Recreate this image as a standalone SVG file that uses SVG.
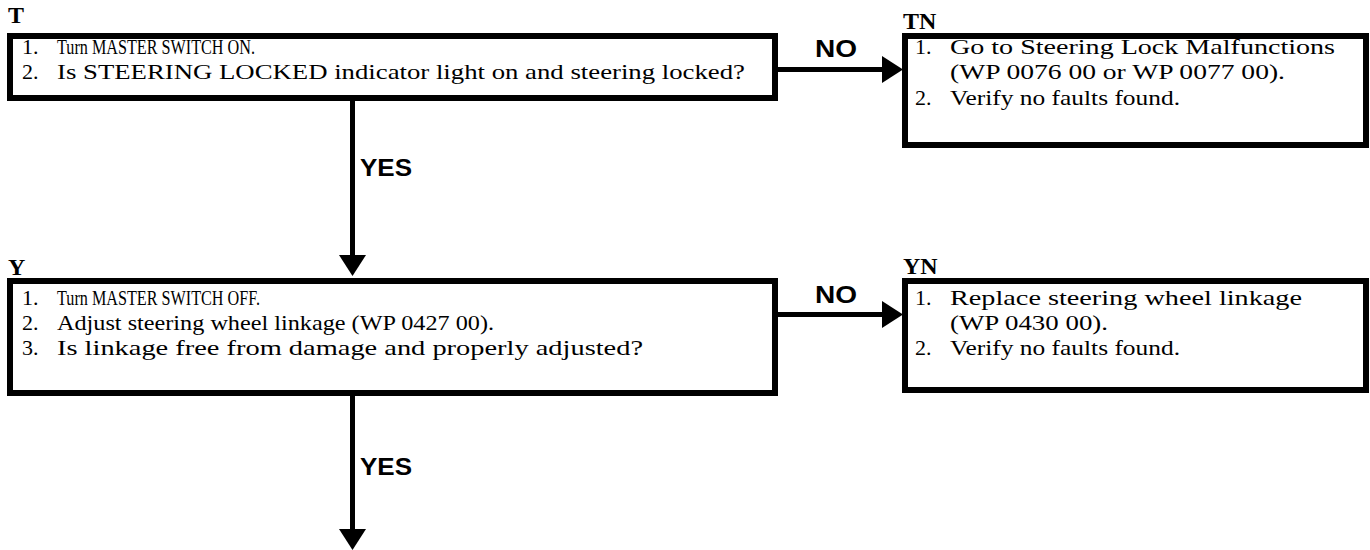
<svg xmlns="http://www.w3.org/2000/svg" width="1370" height="550" viewBox="0 0 1370 550">
<defs>
<style>
.box{fill:#fff;stroke:#000;stroke-width:6}
.t{font-family:"Liberation Serif","Times New Roman",serif;font-size:22px;fill:#000}
.lbl{font-family:"Liberation Serif","Times New Roman",serif;font-size:24px;font-weight:bold;fill:#000}
.c{stroke:#000;stroke-width:5;fill:none}
.yn{font-family:"Liberation Sans",Arial,sans-serif;font-size:24px;font-weight:bold;fill:#000}
</style>
</defs>
<g id="connectors">
<line class="c" x1="778" y1="69.5" x2="885" y2="69.5"/>
<polygon points="882,56 903,69.5 882,83"/>
<text class="yn" x="815" y="57" textLength="42" lengthAdjust="spacingAndGlyphs">NO</text>
<line class="c" x1="352.5" y1="101" x2="352.5" y2="258"/>
<polygon points="339,255 352.5,276 366,255"/>
<text class="yn" x="360" y="176" textLength="52" lengthAdjust="spacingAndGlyphs">YES</text>
<line class="c" x1="778" y1="314.5" x2="885" y2="314.5"/>
<polygon points="882,301 903,314.5 882,328"/>
<text class="yn" x="815" y="303" textLength="42" lengthAdjust="spacingAndGlyphs">NO</text>
<line class="c" x1="352.5" y1="396" x2="352.5" y2="532"/>
<polygon points="339,529 352.5,550 366,529"/>
<text class="yn" x="360" y="475" textLength="52" lengthAdjust="spacingAndGlyphs">YES</text>
</g>
<g id="T">
<text class="lbl" x="8" y="23">T</text>
<rect class="box" x="10" y="36" width="765" height="62"/>
<text class="t" x="22" y="54">1.</text><text class="t" x="57" y="54" textLength="198" lengthAdjust="spacingAndGlyphs">Turn MASTER SWITCH ON.</text>
<text class="t" x="22" y="79">2.</text><text class="t" x="57" y="79" textLength="688" lengthAdjust="spacingAndGlyphs">Is STEERING LOCKED indicator light on and steering locked?</text>
</g>
<g id="TN">
<text class="lbl" x="903" y="29">TN</text>
<rect class="box" x="905" y="36" width="461" height="109"/>
<text class="t" x="915" y="54">1.</text><text class="t" x="950" y="54" textLength="385" lengthAdjust="spacingAndGlyphs">Go to Steering Lock Malfunctions</text>
<text class="t" x="950" y="79" textLength="335" lengthAdjust="spacingAndGlyphs">(WP 0076 00 or WP 0077 00).</text>
<text class="t" x="915" y="105">2.</text><text class="t" x="950" y="105" textLength="230" lengthAdjust="spacingAndGlyphs">Verify no faults found.</text>
</g>
<g id="Y">
<text class="lbl" x="8" y="275">Y</text>
<rect class="box" x="10" y="281" width="765" height="112"/>
<text class="t" x="22" y="305">1.</text><text class="t" x="57" y="305" textLength="203" lengthAdjust="spacingAndGlyphs">Turn MASTER SWITCH OFF.</text>
<text class="t" x="22" y="330">2.</text><text class="t" x="57" y="330" textLength="437" lengthAdjust="spacingAndGlyphs">Adjust steering wheel linkage (WP 0427 00).</text>
<text class="t" x="22" y="355">3.</text><text class="t" x="57" y="355" textLength="586" lengthAdjust="spacingAndGlyphs">Is linkage free from damage and properly adjusted?</text>
</g>
<g id="YN">
<text class="lbl" x="903" y="274">YN</text>
<rect class="box" x="905" y="281" width="461" height="109"/>
<text class="t" x="915" y="305">1.</text><text class="t" x="950" y="305" textLength="352" lengthAdjust="spacingAndGlyphs">Replace steering wheel linkage</text>
<text class="t" x="950" y="330" textLength="158" lengthAdjust="spacingAndGlyphs">(WP 0430 00).</text>
<text class="t" x="915" y="355">2.</text><text class="t" x="950" y="355" textLength="230" lengthAdjust="spacingAndGlyphs">Verify no faults found.</text>
</g>
</svg>
